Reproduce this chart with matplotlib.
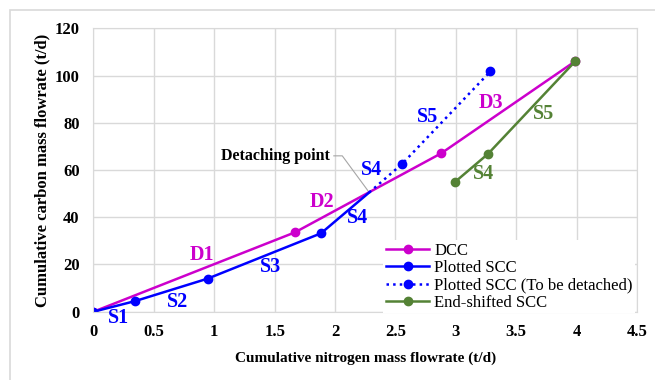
import matplotlib
matplotlib.use("Agg")
import matplotlib.pyplot as plt
from matplotlib.patches import Rectangle

plt.rcParams['font.family'] = ['Liberation Serif', 'DejaVu Serif']

# cumulative nitrogen (t/d) vs cumulative carbon (t/d)
dcc_x = [0, 1.668, 2.88, 3.99]
dcc_y = [0, 33.6, 67.1, 106.1]

scc_x = [0, 0.345, 0.945, 1.884, 2.283]
scc_y = [0, 4.5, 14.0, 33.2, 50.5]

detach_x = [2.283, 2.554, 3.287]
detach_y = [50.5, 62.5, 101.8]

shift_x = [2.99, 3.266, 3.99]
shift_y = [54.8, 66.8, 106.1]

xticks = [0, 0.5, 1, 1.5, 2, 2.5, 3, 3.5, 4, 4.5]
xtick_labels = ['0', '0.5', '1', '1.5', '2', '2.5', '3', '3.5', '4', '4.5']
yticks = [0, 20, 40, 60, 80, 100, 120]

detaching_point = (scc_x[-1], scc_y[-1])

MAG = '#CC00CC'
BLUE = '#0000FF'
GREEN = '#548235'

fig = plt.figure(figsize=(6.55, 3.8), dpi=100)
ax = fig.add_axes([0.1427, 0.1797, 0.8298, 0.7458])

# chart area frame
fig.patches.append(Rectangle((10 / 655, -0.1), 1.2, 1.1 - 10 / 380,
                             transform=fig.transFigure, fill=False,
                             edgecolor='#d9d9d9', linewidth=1.2))

ax.plot(dcc_x, dcc_y, color=MAG, lw=1.8, marker='o', ms=6, label='DCC')
ax.plot(scc_x, scc_y, color=BLUE, lw=1.8, marker='o', ms=6,
        markevery=[0, 1, 2, 3], label='Plotted SCC')
ax.plot(detach_x, detach_y, color=BLUE, lw=1.8, ls=':', marker='o', ms=6,
        markevery=[1, 2], label='Plotted SCC (To be detached)')
ax.plot(shift_x, shift_y, color=GREEN, lw=1.8, marker='o', ms=6,
        label='End-shifted SCC')

lab = dict(fontsize=14.5, fontweight='bold', ha='center', va='center')
ax.text(0.9, 24, 'D1', color=MAG, **lab)
ax.text(1.895, 46.6, 'D2', color=MAG, **lab)
ax.text(3.29, 88.2, 'D3', color=MAG, **lab)
ax.text(0.21, -2.8, 'S1', color=BLUE, **lab)
ax.text(0.70, 4.2, 'S2', color=BLUE, **lab)
ax.text(1.466, 19, 'S3', color=BLUE, **lab)
ax.text(2.19, 39.5, 'S4', color=BLUE, **lab)
ax.text(2.30, 60, 'S4', color=BLUE, **lab)
ax.text(2.77, 82.3, 'S5', color=BLUE, **lab)
ax.text(3.23, 58.3, 'S4', color=GREEN, **lab)
ax.text(3.73, 83.7, 'S5', color=GREEN, **lab)

# leader line for the detaching point
ax.text(1.96, 66, 'Detaching point', fontsize=11.5, fontweight='bold',
        ha='right', va='center')
ax.plot([1.99, 2.06, detaching_point[0]], [66, 66, detaching_point[1]],
        color='#a6a6a6', lw=0.8, zorder=1)

ax.set_xlim(0, 4.5)
ax.set_ylim(0, 120)
ax.set_xticks(xticks)
ax.set_xticklabels(xtick_labels)
ax.set_yticks(yticks)
ax.grid(True, color='#d9d9d9', lw=1)
ax.set_axisbelow(True)
for s in ax.spines.values():
    s.set_color('#d9d9d9')
ax.tick_params(length=0, labelsize=12)
ax.tick_params(axis='x', pad=9)
ax.tick_params(axis='y', pad=10)
for t in ax.get_xticklabels() + ax.get_yticklabels():
    t.set_fontweight('bold')

ax.set_xlabel('Cumulative nitrogen mass flowrate (t/d)', fontsize=11,
              fontweight='bold', labelpad=8)
ax.set_ylabel('Cumulative carbon mass flowrate (t/d)', fontsize=12,
              fontweight='bold', labelpad=3)

ax.legend(loc='lower right', bbox_to_anchor=(1.0, -0.012), fontsize=12,
          frameon=True, facecolor='white', edgecolor='none', framealpha=1,
          handlelength=2.6, borderpad=0.15, labelspacing=0.08,
          handletextpad=0.3, borderaxespad=0.1, fancybox=False)

fig.savefig('out.png', dpi=100)
